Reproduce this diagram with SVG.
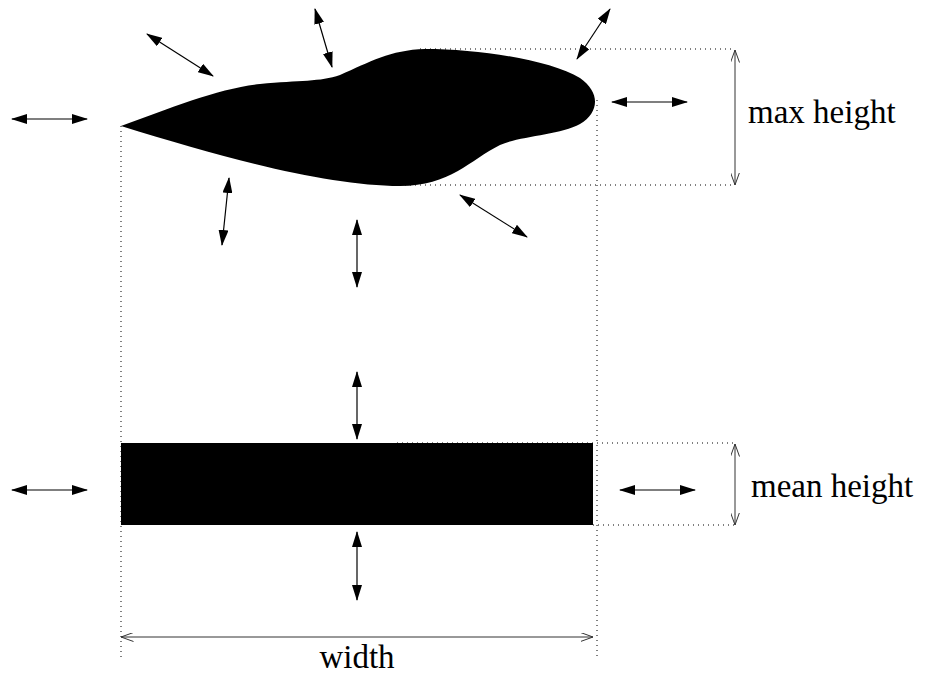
<svg xmlns="http://www.w3.org/2000/svg" width="925" height="677" viewBox="0 0 925 677">
<style>
.arr{stroke:#000;stroke-width:1.2;fill:none;marker-start:url(#fh);marker-end:url(#fh)}
.dim{stroke:#333;stroke-width:1;fill:none;marker-start:url(#oh);marker-end:url(#oh)}
.dot{stroke:#000;stroke-width:1;stroke-dasharray:1 4;fill:none}
.lbl{font-family:"Liberation Serif","Times New Roman",serif;font-size:33px;fill:#000}
</style>
<defs>
<marker id="fh" viewBox="0 0 16 10" refX="15" refY="5" markerWidth="16" markerHeight="10" markerUnits="userSpaceOnUse" orient="auto-start-reverse"><path d="M0,0 L16,5 L0,10 Z" fill="#000"/></marker>
<marker id="oh" viewBox="0 0 13 9" refX="12.5" refY="4.5" markerWidth="13" markerHeight="9" markerUnits="userSpaceOnUse" orient="auto-start-reverse"><path d="M0,0 L12.5,4.5 L0,9" fill="none" stroke="#333" stroke-width="1"/></marker>
</defs>
<g id="guides">
<path class="dot" d="M420,49 H735 M400,185 H735 M597,100 V660 M121,126 V660 M397,443 H735 M593,525 H735"/>
</g>
<g id="blob"><path d="M121,126 C170,108 220,88 260,84 C300,80 320,82 340,75 C370,62 390,50 425,49 C480,49 550,60 580,78 C600,92 600,112 580,124 C560,135 520,136 500,145 C470,160 450,186 400,186 C330,186 230,160 121,126 Z" fill="#000"/></g>
<g id="rect"><rect x="121" y="443" width="472" height="82" fill="#000"/></g>
<g id="connectors">
<line class="arr" x1="12" y1="119" x2="87" y2="119"/>
<line class="arr" x1="147" y1="34" x2="213" y2="76"/>
<line class="arr" x1="315" y1="9" x2="332" y2="67"/>
<line class="arr" x1="610" y1="9" x2="577" y2="59"/>
<line class="arr" x1="612" y1="102" x2="687" y2="102"/>
<line class="arr" x1="229" y1="178" x2="222" y2="245"/>
<line class="arr" x1="357" y1="220" x2="357" y2="287"/>
<line class="arr" x1="460" y1="195" x2="527" y2="237"/>
<line class="arr" x1="357" y1="372" x2="357" y2="439"/>
<line class="arr" x1="12" y1="490" x2="87" y2="490"/>
<line class="arr" x1="620" y1="490" x2="695" y2="490"/>
<line class="arr" x1="357" y1="532" x2="357" y2="600"/>
<line class="dim" x1="735" y1="50" x2="735" y2="185"/>
<line class="dim" x1="735" y1="444" x2="735" y2="525"/>
<line class="dim" x1="121" y1="637" x2="593" y2="637"/>
</g>
<g id="labels">
<text class="lbl" x="748" y="123">max height</text>
<text class="lbl" x="751" y="497">mean height</text>
<text class="lbl" x="357" y="668" text-anchor="middle">width</text>
</g>
</svg>
